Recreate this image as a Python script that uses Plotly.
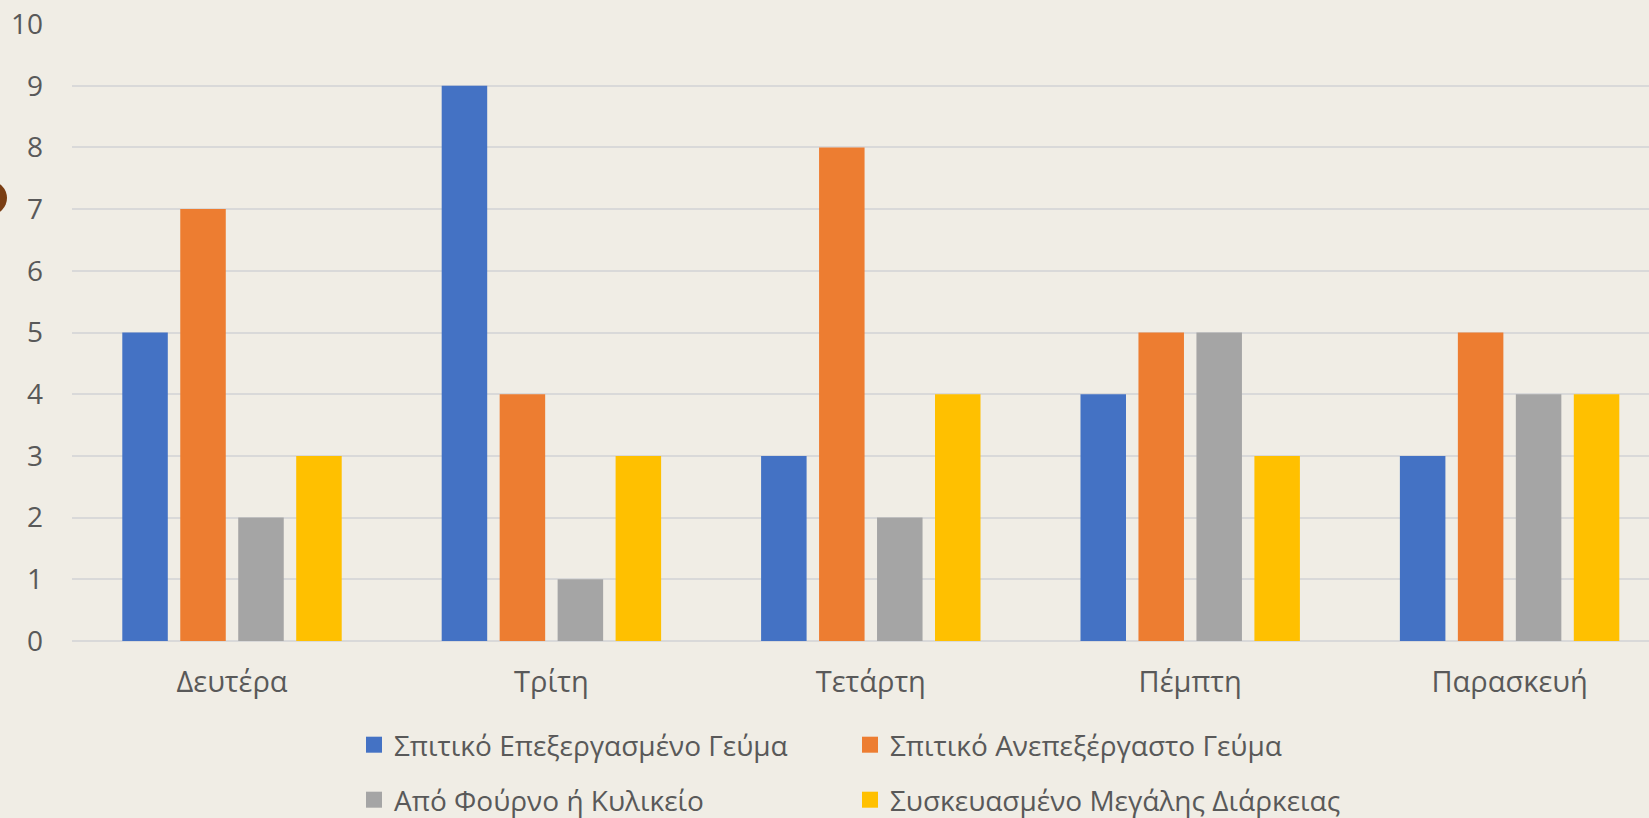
import plotly.graph_objects as go

# ---- data ----
days = ["Δευτέρα", "Τρίτη", "Τετάρτη", "Πέμπτη", "Παρασκευή"]
series_names = [
    "Σπιτικό Επεξεργασμένο Γεύμα",
    "Σπιτικό Ανεπεξέργαστο Γεύμα",
    "Από Φούρνο ή Κυλικείο",
    "Συσκευασμένο Μεγάλης Διάρκειας",
]
home_processed = [5, 9, 3, 4, 3]
home_unprocessed = [7, 4, 8, 5, 5]
bakery_canteen = [2, 1, 2, 5, 4]
packaged_long_life = [3, 3, 4, 3, 4]
y_ticks = list(range(0, 11))

series_values = [home_processed, home_unprocessed, bakery_canteen, packaged_long_life]
colors = ["#4472C4", "#ED7D31", "#A5A5A5", "#FFC000"]
legend_refs = ["legend", "legend", "legend2", "legend2"]

# ---- layout constants ----
W, H = 1649, 818
L, R, T, B = 72, 0, 24, 177
PLOT_W = W - L - R
PLOT_H = H - T - B
TEXT = "#595959"
FONT = "Open Sans"
BG = "#F0EDE5"


def px_x(px):
    return (px - L) / PLOT_W


def px_y(py):
    return (H - B - py) / PLOT_H


fig = go.Figure()

for name, vals, col in zip(series_names, series_values, colors):
    fig.add_trace(go.Bar(
        x=days, y=vals, name=name, marker=dict(color=col, line=dict(width=0)),
        showlegend=False, hoverinfo="x+y+name",
    ))

# legend entries (larger square swatches)
for name, col, lg in zip(series_names, colors, legend_refs):
    fig.add_trace(go.Scatter(
        x=[None], y=[None], mode="markers", name=name, legend=lg,
        marker=dict(symbol="square", size=16, color=col, line=dict(width=0)),
    ))

cat_px = 319.4
first_center = 232
x0 = (L - first_center) / cat_px
x1 = (W - R - first_center) / cat_px

legend_common = dict(
    orientation="h", xref="container", yref="container",
    xanchor="left", yanchor="middle",
    font=dict(family=FONT, size=28, color=TEXT),
    bgcolor="rgba(0,0,0,0)", entrywidth=451, entrywidthmode="pixels",
    itemclick=False, itemdoubleclick=False,
)

fig.update_layout(
    width=W, height=H,
    margin=dict(l=L, r=R, t=T, b=B, pad=0),
    paper_bgcolor=BG, plot_bgcolor=BG,
    barmode="group", bargap=0.274, bargroupgap=0.215,
    font=dict(family=FONT, size=28, color=TEXT),
    xaxis=dict(
        type="category", range=[x0, x1], showgrid=False, zeroline=False,
        showline=False, ticks="", ticklabelstandoff=21,
        tickfont=dict(family=FONT, size=29, color=TEXT), fixedrange=True,
    ),
    yaxis=dict(
        range=[0, 10], tickvals=y_ticks, ticktext=[str(v) for v in y_ticks],
        showgrid=True, gridcolor="#D9D9D9", gridwidth=1.5,
        zeroline=True, zerolinecolor="#D9D9D9", zerolinewidth=1.5,
        showline=False, ticks="", ticklabelstandoff=28,
        tickfont=dict(family=FONT, size=28, color=TEXT), fixedrange=True,
    ),
    legend=dict(x=(366 - 12) / W, y=1 - 745 / H, **legend_common),
    legend2=dict(x=(366 - 12) / W, y=1 - 800 / H, **legend_common),
    shapes=[dict(
        type="circle", xref="paper", yref="paper",
        x0=px_x(-27), x1=px_x(7), y0=px_y(215), y1=px_y(181),
        fillcolor="#7A3E14", line=dict(width=0), layer="above",
    )],
    showlegend=True,
)

fig.write_html(
    "out.html",
    config={"displayModeBar": False},
    post_script="document.body.style.margin='0';document.body.style.background='#F0EDE5';",
)
